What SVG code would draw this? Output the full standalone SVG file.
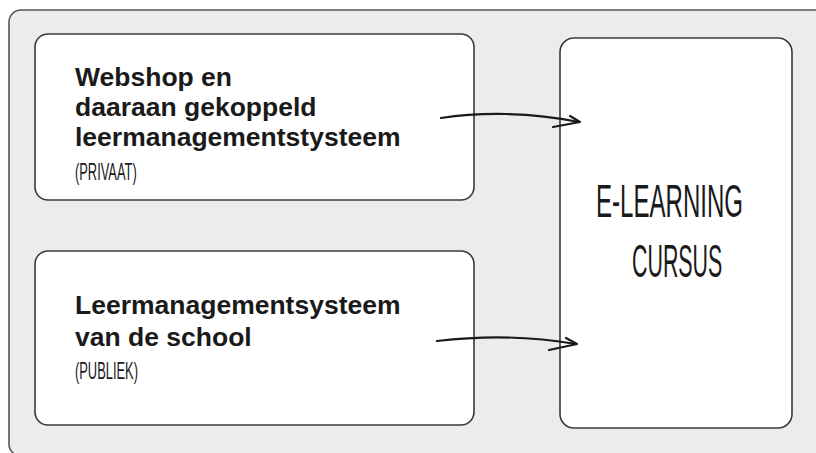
<svg xmlns="http://www.w3.org/2000/svg" width="816" height="453" viewBox="0 0 816 453">
<style>
.box{fill:#ffffff;stroke:#3a3a3a;stroke-width:1.6}
.t{font-family:"Liberation Sans",Arial,sans-serif;font-weight:bold;font-size:26.5px;fill:#1a1a1a}
.h{font-family:"Liberation Sans",Arial,sans-serif;font-size:23px;fill:#1a1a1a}
.big{font-family:"Liberation Sans",Arial,sans-serif;font-size:47px;fill:#1a1a1a}
.c{fill:none;stroke:#1a1a1a;stroke-width:2.2;stroke-linecap:round;stroke-linejoin:round}
</style>
<rect x="9" y="10" width="830" height="446" rx="12" fill="#ececec" stroke="#555555" stroke-width="1.6"/>
<g id="webshop">
<rect class="box" x="35" y="34" width="439" height="166" rx="13"/>
<text class="t" x="75" y="86">Webshop en</text>
<text class="t" x="75" y="116">daaraan gekoppeld</text>
<text class="t" x="75" y="146">leermanagementstysteem</text>
<text class="h" transform="translate(75,180) scale(0.56,1)" x="0" y="0">(PRIVAAT)</text>
</g>
<g id="school">
<rect class="box" x="35" y="251" width="439" height="174" rx="13"/>
<text class="t" x="75" y="314">Leermanagementsysteem</text>
<text class="t" x="75" y="346">van de school</text>
<text class="h" transform="translate(75,379) scale(0.56,1)" x="0" y="0">(PUBLIEK)</text>
</g>
<g id="cursus">
<rect class="box" x="560" y="38" width="232" height="390" rx="14"/>
<text class="big" transform="translate(596,217) scale(0.512,1)" x="0" y="0">E-LEARNING</text>
<text class="big" transform="translate(632,277) scale(0.455,1)" x="0" y="0">CURSUS</text>
</g>
<g id="connectors">
<path class="c" d="M441,118 C480,112 530,112 579,122"/>
<path class="c" d="M570,116 L580,122 L553,127"/>
<path class="c" d="M437,341 C480,336 530,336 576,344"/>
<path class="c" d="M566,338 L577,344 L549,350"/>
</g>
</svg>
